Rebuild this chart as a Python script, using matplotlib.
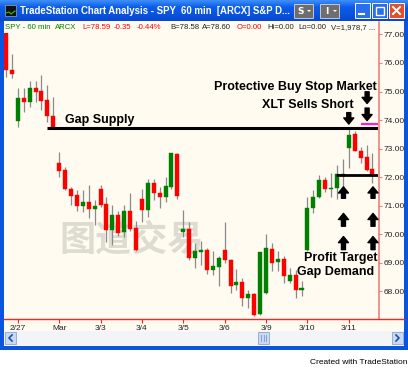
import numpy as np
import matplotlib.pyplot as plt
from matplotlib.patches import Rectangle, Polygon
from matplotlib.colors import LinearSegmentedColormap

# hourly SPY bars (open, high, low, close)
opens = [77.20, 75.75, 73.98, 74.76, 74.64, 75.11, 75.01, 74.70, 74.15,
         72.51, 72.26, 71.58, 71.38, 70.99, 71.14, 70.89,
         71.59, 71.06, 70.15, 70.68, 70.08, 70.83, 70.21,
         71.22, 70.85, 71.79, 71.44, 71.32, 71.67, 72.81,
         70.09, 70.18, 69.17, 69.38, 69.43, 68.76, 68.85,
         69.43, 69.11, 68.21, 68.32, 67.75, 67.90, 67.22,
         67.94, 69.48, 69.03, 69.13, 68.35, 68.58, 68.06,
         69.45, 70.91, 71.32, 71.90, 71.58, 71.61, 72.05,
         73.01, 73.50, 72.93, 72.70, 72.28]
highs = [77.40, 76.33, 75.14, 75.14, 75.37, 75.37, 75.57, 75.22, 74.81,
         72.89, 72.37, 71.67, 71.55, 71.55, 71.73, 71.20,
         71.73, 71.32, 71.03, 70.80, 71.03, 71.44, 70.48,
         71.58, 71.93, 71.93, 71.67, 72.02, 72.84, 72.84,
         70.85, 70.44, 69.69, 69.75, 69.50, 69.40, 69.22,
         70.44, 69.13, 68.78, 68.46, 68.06, 67.94, 69.36,
         70.00, 69.69, 69.40, 69.22, 68.81, 68.76, 68.35,
         71.32, 71.55, 72.08, 72.00, 72.14, 72.43, 72.65,
         73.77, 73.60, 73.07, 73.13, 72.84]
lows = [75.50, 75.49, 73.77, 74.29, 74.44, 74.64, 74.35, 73.94, 73.71,
        72.02, 71.55, 71.03, 70.82, 70.78, 70.56, 70.33,
        70.96, 69.74, 69.63, 69.95, 69.91, 70.10, 69.40,
        70.42, 70.62, 71.21, 70.91, 71.14, 71.58, 71.23,
        69.92, 69.08, 68.82, 68.93, 68.60, 68.58, 68.18,
        68.98, 67.94, 68.06, 67.50, 67.42, 67.12, 67.18,
        67.90, 68.70, 68.70, 68.29, 68.29, 67.77, 67.82,
        69.40, 70.74, 71.26, 71.49, 71.32, 71.23, 71.30,
        72.31, 72.90, 72.50, 72.20, 71.79]
closes = [75.75, 75.63, 74.76, 74.64, 75.11, 74.99, 74.67, 74.14, 73.77,
          72.23, 71.58, 71.35, 71.00, 71.14, 70.89, 70.99,
          71.03, 70.15, 70.68, 70.04, 70.83, 70.19, 69.45,
          70.85, 71.79, 71.46, 71.32, 71.69, 72.84, 71.34,
          70.18, 69.17, 69.40, 69.43, 68.76, 68.87, 69.17,
          69.08, 68.20, 68.32, 67.77, 67.90, 67.18, 69.36,
          69.51, 68.99, 69.13, 68.52, 68.58, 68.06, 68.12,
          70.91, 71.32, 71.90, 71.58, 71.62, 72.11, 72.12,
          73.48, 72.93, 72.66, 72.25, 72.08]

day_labels = ['2/27', 'Mar', '3/3', '3/4', '3/5', '3/6', '3/9', '3/10', '3/11']
day_start = [2, 9, 16, 23, 30, 37, 44, 51, 58]
price_ticks = [68, 69, 70, 71, 72, 73, 74, 75, 76, 77]

gap_supply = 73.72
profit_target = 72.08
buy_stop = 73.86
# (bar, tail price, tip price)
down_arrows = [(58.0, 74.26, 73.86), (61.1, 74.99, 74.58), (61.1, 74.42, 73.98)]
up_arrows = [(57.1, 71.26, 71.66), (57.1, 70.28, 70.73), (57.1, 69.46, 69.92),
             (62.1, 71.26, 71.66), (62.1, 70.28, 70.73), (62.1, 69.46, 69.92)]

W, H = 408, 374
cream = '#fffbf0'
xp_blue = '#0a54e0'

fig = plt.figure(figsize=(W / 100, H / 100), dpi=100)
fig.patch.set_facecolor('white')

# window chrome drawn in pixel coordinates
bg = fig.add_axes([0, 0, 1, 1])
bg.set_xlim(0, W)
bg.set_ylim(H, 0)
bg.axis('off')

def box(x0, y0, x1, y1, fc, ec='none', lw=0, z=1):
    bg.add_patch(Rectangle((x0, y0), x1 - x0, y1 - y0, fc=fc, ec=ec, lw=lw, zorder=z))

box(0, 0, W, 350, xp_blue)
grad = np.linspace(0, 1, 21)[:, None]
cm = LinearSegmentedColormap.from_list('xp', ['#3c8df7', '#0b5ce9', '#0a54e0', '#0848cf'])
bg.imshow(grad, cmap=cm, extent=(0, W, 21, 0), aspect='auto', zorder=2)
box(4, 21, 404, 346, cream, z=3)

# title bar contents
box(5, 5, 16, 16, '#111111', ec='#99aabb', lw=0.5, z=4)
bg.plot([6, 9, 11, 15], [13, 12, 14, 11], color='#30c030', lw=0.8, zorder=5)
bg.text(20, 11, 'TradeStation Chart Analysis - SPY  60 min  [ARCX] S&P D...',
        color='white', fontsize=6.9, fontweight='bold', va='center', ha='left',
        family='Liberation Sans', zorder=5)
for x0, lab in [(294, 'S'), (320, 'I')]:
    box(x0, 4, x0 + 19, 18, '#6e6e6e', ec='#d8d8d8', lw=0.6, z=4)
    bg.text(x0 + 7, 11, lab, color='white', fontsize=6.5, fontweight='bold',
            va='center', ha='center', zorder=5)
    bg.add_patch(Polygon([[x0 + 13, 10], [x0 + 17, 10], [x0 + 15, 12]], fc='white', zorder=5))
for x0 in (355, 372):
    box(x0, 3, x0 + 15, 18, '#2a6ef0', ec='white', lw=0.7, z=4)
bg.plot([359, 364], [14, 14], color='white', lw=1.5, zorder=5)
box(375.5, 6.5, 383.5, 14.5, 'none', ec='white', lw=1.0, z=5)
box(389, 3, 404, 18, '#e0502c', ec='white', lw=0.7, z=4)
bg.plot([393, 400], [7, 14], color='white', lw=1.4, zorder=5)
bg.plot([393, 400], [14, 7], color='white', lw=1.4, zorder=5)

# status line
status = [(5, 'SPY - 60 min', '#008000'), (55, 'ARCX', '#008000'),
          (82, 'L=78.59', '#ff0000'), (114, '-0.35', '#ff0000'),
          (137, '-0.44%', '#ff0000'), (170, 'B=78.58', '#222222'),
          (202, 'A=78.60', '#222222'), (237, 'O=0.00', '#ff0000'),
          (267, 'Hi=0.00', '#222222'), (298, 'Lo=0.00', '#222222'),
          (331, 'V=1,978,7 ...', '#222222')]
for x0, s, c in status:
    bg.text(x0, 27.5, s, color=c, fontsize=5.6, va='center', ha='left',
            family='Liberation Sans', zorder=5)

# axis frame lines that run past the plot area
bg.plot([378.5, 378.5], [22, 319], color='#f08080', lw=1.2, zorder=6)
bg.plot([4, 404], [319, 319], color='#ff2020', lw=1.0, zorder=6)

# scrollbar
box(4, 331, 404, 345, '#f2f4f8', z=4)
box(5, 332, 16, 344, '#c8d8f8', ec='#7f9db9', lw=0.5, z=5)
box(392, 332, 403, 344, '#c8d8f8', ec='#7f9db9', lw=0.5, z=5)
box(258, 332, 269, 344, '#c8d8f8', ec='#7f9db9', lw=0.5, z=5)
bg.plot([12, 9, 12], [335, 338, 341], color='#2050a0', lw=1.2, zorder=6)
bg.plot([396, 399, 396], [335, 338, 341], color='#2050a0', lw=1.2, zorder=6)
for gx in (261, 263.5, 266):
    bg.plot([gx, gx], [335, 341], color='#7f9db9', lw=0.6, zorder=6)

bg.text(407, 362, 'Created with TradeStation', fontsize=6, color='black',
        ha='right', va='center', family='Liberation Sans', zorder=5)

# watermark
bg.text(132, 240, '图道交易', fontsize=26, fontweight='bold', color='#dedcd1',
        family=['Noto Sans CJK SC', 'DejaVu Sans'], ha='center', va='center', zorder=4)

# price chart
x0p, x1p, y0p, y1p = 4, 378, 33, 319
ax = fig.add_axes([x0p / W, 1 - y1p / H, (x1p - x0p) / W, (y1p - y0p) / H])
ax.patch.set_alpha(0)
n = len(opens)
idx = np.arange(n)
o = np.array(opens)
c = np.array(closes)
up = c >= o
cols = np.where(up, '#008000', '#ff0000')
ax.vlines(idx, lows, highs, color='#8a8a8a', lw=0.9, zorder=2)
bottoms = np.minimum(o, c)
heights = np.maximum(np.abs(c - o), 0.05)
ax.bar(idx, heights, bottom=bottoms, width=0.68, color=cols,
       edgecolor=cols, lw=0.3, zorder=3)

ax.set_xlim((x0p - 6.0) / 5.91, (x1p - 6.0) / 5.91)
ax.set_ylim(67.03, 77.05)

for s in ax.spines.values():
    s.set_visible(False)

ax.set_xticks(day_start)
ax.set_xticklabels(day_labels)
ax.yaxis.tick_right()
ax.set_yticks(price_ticks)
ax.set_yticklabels([f'{p:.2f}' for p in price_ticks])
ax.tick_params(axis='x', length=3, color='#ff2020', labelsize=6, pad=1.5,
               labelcolor='#222222')
ax.tick_params(axis='y', length=3, color='#f08080', labelsize=6, pad=1,
               labelcolor='#222222')
for t in ax.get_xticklabels() + ax.get_yticklabels():
    t.set_family('Liberation Sans')

# levels
ax.hlines(gap_supply, 6.9, 63, color='black', lw=2.2, zorder=4)
ax.hlines(profit_target, 55.9, 63, color='black', lw=2.0, zorder=4)
ax.hlines(buy_stop, 60.1, 63, color='#ff20d0', lw=1.6, zorder=4)

arrow_style = 'simple,head_length=0.55,head_width=0.9,tail_width=0.36'
for bx, tail, tip in down_arrows + up_arrows:
    ax.annotate('', xy=(bx, tip), xytext=(bx, tail),
                arrowprops=dict(arrowstyle=arrow_style, color='black',
                                mutation_scale=8, shrinkA=0, shrinkB=0),
                zorder=5)

lab = dict(fontsize=9, fontweight='bold', family='Liberation Sans', color='black',
           va='center', zorder=6)
bg.text(65, 120, 'Gap Supply', ha='left', **lab)
bg.text(377, 87, 'Protective Buy Stop Market', ha='right', **lab)
bg.text(354, 104.5, 'XLT Sells Short', ha='right', **lab)
bg.text(377, 258, 'Profit Target', ha='right', **lab)
bg.text(374, 271.5, 'Gap Demand', ha='right', **lab)

fig.savefig('out.png', dpi=100, facecolor='white')
